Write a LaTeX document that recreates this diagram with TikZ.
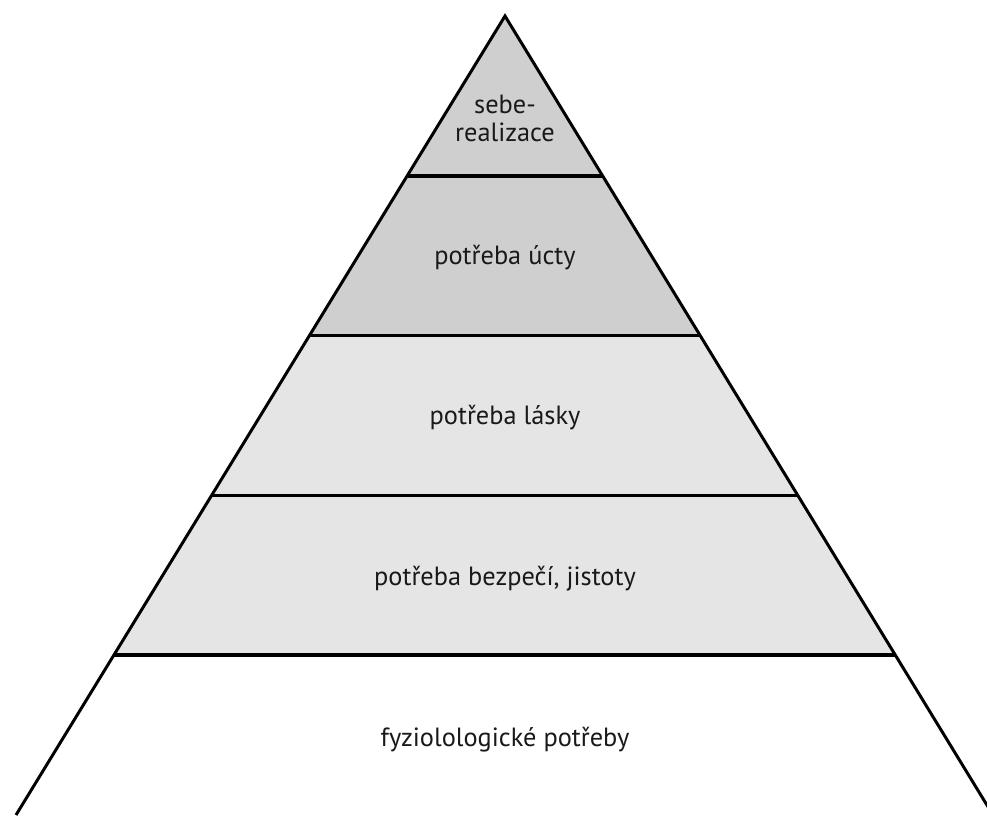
\documentclass[tikz,border=0pt]{standalone}
\usepackage{fontspec}
\setmainfont{PT Sans}
\usetikzlibrary{calc}
\definecolor{bandDark}{gray}{0.81}
\definecolor{bandLight}{gray}{0.90}
\tikzset{%
    lbl/.style={inner sep=0pt,align=center,text=black!90,font=\fontsize{15}{16}\selectfont}
}

\begin{document}
\begin{tikzpicture}[
        x=0.02cm, y=-0.02cm,
        side/.style={line width=1.7pt, line join=miter},
        floor/.style={line width=2pt}
        ]
        \useasboundingbox (0,0) rectangle (987,816);
        \clip (0,0) rectangle (987,816);

        \coordinate (top) at (505,16);
        \coordinate (bl) at (16,815);
        \coordinate (br) at (993,815);

        \coordinate (1l) at ($(top)!0.2!(bl)$);
        \coordinate (1r) at ($(top)!0.2!(br)$);
        \coordinate (2l) at ($(top)!0.4!(bl)$);
        \coordinate (2r) at ($(top)!0.4!(br)$);
        \coordinate (3l) at ($(top)!0.6!(bl)$);
        \coordinate (3r) at ($(top)!0.6!(br)$);
        \coordinate (4l) at ($(top)!0.8!(bl)$);
        \coordinate (4r) at ($(top)!0.8!(br)$);

        \fill[bandDark] (top) -- (1r) -- (1l) -- cycle;
        \fill[bandDark] (1l) -- (1r) -- (2r) -- (2l) -- cycle;
        \fill[bandLight] (2l) -- (2r) -- (3r) -- (3l) -- cycle;
        \fill[bandLight] (3l) -- (3r) -- (4r) -- (4l) -- cycle;

        \draw[floor] (1l) -- (1r);
        \draw[floor] (2l) -- (2r);
        \draw[floor] (3l) -- (3r);
        \draw[floor] (4l) -- (4r);
        \draw[side] (bl) -- (top) -- (br);

        \node[lbl] (self) at (505,118) {sebe-\\realizace};
        \node[lbl] (esteem) at (505,258) {potřeba úcty};
        \node[lbl] (love) at (505,418) {potřeba lásky};
        \node[lbl] (safety) at (505,579) {potřeba bezpečí, jistoty};
        \node[lbl] (body) at (505,740) {fyziolologické potřeby};
    \end{tikzpicture}
\end{document}
